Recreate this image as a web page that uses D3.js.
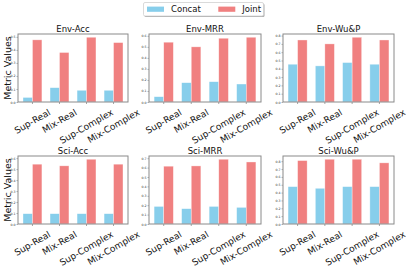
<!DOCTYPE html>
<html>
<head>
<style>
  html, body { margin: 0; padding: 0; background: #fff; }
  svg { display: block; font-family: 'DejaVu Sans', sans-serif; }
</style>
</head>
<body>
<script src="https://d3js.org/d3.v7.min.js"></script>
<script>
// data
var categories = ["Sup-Real", "Mix-Real", "Sup-Complex", "Mix-Complex"];
var titles = ["Env-Acc", "Env-MRR", "Env-Wu&P", "Sci-Acc", "Sci-MRR", "Sci-Wu&P"];
var seriesNames = ["Concat", "Joint"];
var concatVals = [
  [0.035, 0.11, 0.09, 0.09],
  [0.048, 0.175, 0.184, 0.163],
  [0.455, 0.435, 0.475, 0.455],
  [0.094, 0.094, 0.094, 0.094],
  [0.187, 0.163, 0.187, 0.177],
  [0.476, 0.455, 0.476, 0.476]
];
var jointVals = [
  [0.477, 0.38, 0.497, 0.456],
  [0.542, 0.50, 0.578, 0.587],
  [0.747, 0.70, 0.78, 0.747],
  [0.545, 0.53, 0.59, 0.545],
  [0.615, 0.618, 0.689, 0.66],
  [0.808, 0.825, 0.825, 0.779]
];

var colors = ["#87CEEB", "#F08080"];
var W = 406, H = 268;
var colX = [[18, 128], [149, 261], [283, 394]];
var rowY = [[34, 102], [156, 224]];
var barW = 0.35;

var svg = d3.select("body").append("svg")
  .attr("width", W)
  .attr("height", H);

titles.forEach(function(title, p) {
  var c = p % 3, r = Math.floor(p / 3);
  var x0 = colX[c][0], x1 = colX[c][1];
  var y0 = rowY[r][0], y1 = rowY[r][1];
  var cv = concatVals[p], jv = jointVals[p];
  var ymax = d3.max(cv.concat(jv)) * 1.05;

  var x = d3.scaleLinear().domain([-0.5 - 0.035, 3.5 + 0.035]).range([x0, x1]);
  var y = d3.scaleLinear().domain([0, ymax]).range([y1, y0]);

  var g = svg.append("g");

  // bars
  [cv, jv].forEach(function(vals, s) {
    g.selectAll(".bar" + s)
      .data(vals)
      .enter().append("rect")
        .attr("x", function(d, i) { return x(i - barW + s * barW); })
        .attr("y", function(d) { return y(d); })
        .attr("width", function() { return x(barW) - x(0); })
        .attr("height", function(d) { return y(0) - y(d); })
        .attr("fill", colors[s])
        .attr("stroke", "#fff")
        .attr("stroke-opacity", 0.6)
        .attr("stroke-width", 0.6);
  });

  // y axis
  var yAxis = d3.axisLeft(y)
    .tickValues(d3.range(0, ymax + 1e-9, 0.1))
    .tickFormat(d3.format(".1f"))
    .tickSize(1.5)
    .tickPadding(1);
  var ya = g.append("g").attr("transform", "translate(" + x0 + ",0)").call(yAxis);
  ya.select(".domain").remove();
  ya.selectAll("text").attr("font-size", "3.2px").attr("fill", "#333").attr("font-family", "DejaVu Sans");
  ya.selectAll("line").attr("stroke", "#666").attr("stroke-width", 0.5);

  // x ticks
  var xa = g.append("g").attr("transform", "translate(0," + y1 + ")");
  xa.selectAll("line")
    .data(categories)
    .enter().append("line")
      .attr("x1", function(d, i) { return x(i); })
      .attr("x2", function(d, i) { return x(i); })
      .attr("y1", 0).attr("y2", 2)
      .attr("stroke", "#666").attr("stroke-width", 0.6);

  xa.selectAll("text")
    .data(categories)
    .enter().append("text")
      .text(function(d) { return d; })
      .attr("font-size", "9px")
      .attr("fill", "#111")
      .attr("text-anchor", "middle")
      .attr("dominant-baseline", "central")
      .attr("transform", function(d, i) {
        var L = this.getComputedTextLength();
        var bh = L * 0.5 + 7 * 0.866;
        return "translate(" + x(i) + "," + (6.5 + bh / 2) + ") rotate(-30)";
      });

  // frame
  g.append("rect")
    .attr("x", x0).attr("y", y0)
    .attr("width", x1 - x0).attr("height", y1 - y0)
    .attr("fill", "none")
    .attr("stroke", "#8a8a8a")
    .attr("stroke-width", 1);

  // title
  g.append("text")
    .attr("x", (x0 + x1) / 2)
    .attr("y", y0 - 2.5)
    .attr("text-anchor", "middle")
    .attr("font-size", "8.5px")
    .attr("fill", "#111")
    .text(title);

  if (c === 0) {
    g.append("text")
      .attr("transform", "translate(" + 7.5 + "," + ((y0 + y1) / 2) + ") rotate(-90)")
      .attr("text-anchor", "middle")
      .attr("dominant-baseline", "central")
      .attr("font-size", "9.5px")
      .attr("fill", "#111")
      .text("Metric Values");
  }
});

// legend
var lg = svg.append("g");
lg.append("rect")
  .attr("x", 144.5).attr("y", 3.5)
  .attr("width", 120).attr("height", 13.5)
  .attr("rx", 1.5)
  .attr("fill", "#aaa");
lg.append("rect")
  .attr("x", 143.5).attr("y", 2.5)
  .attr("width", 120).attr("height", 13.5)
  .attr("rx", 1.5)
  .attr("fill", "#fff")
  .attr("stroke", "#d0d0d0")
  .attr("stroke-width", 0.8);

var legX = [147, 218.3];
seriesNames.forEach(function(name, s) {
  lg.append("rect")
    .attr("x", legX[s]).attr("y", 6.6)
    .attr("width", 17).attr("height", 5.2)
    .attr("fill", colors[s]);
  lg.append("text")
    .attr("x", legX[s] + 24).attr("y", 9.4)
    .attr("dominant-baseline", "central")
    .attr("font-size", "8.5px")
    .attr("fill", "#111")
    .text(name);
});
</script>
</body>
</html>
